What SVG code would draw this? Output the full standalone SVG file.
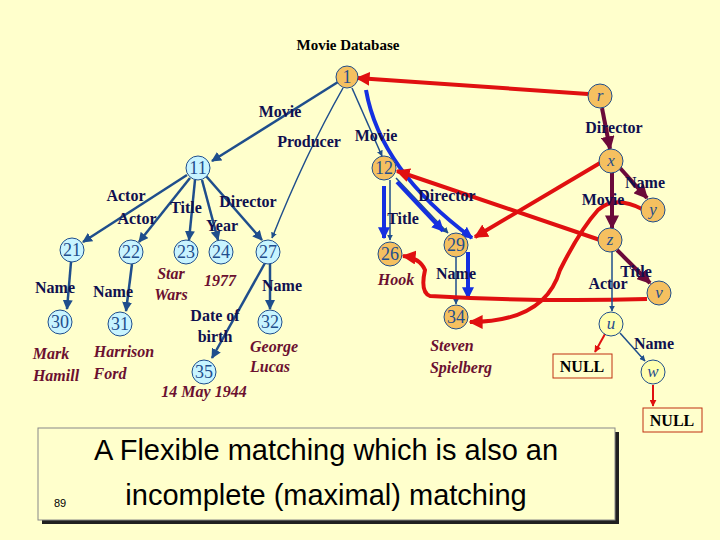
<svg xmlns="http://www.w3.org/2000/svg" width="720" height="540" viewBox="0 0 720 540">
<defs>
<marker id="ab" viewBox="0 0 10 10" refX="9" refY="5" markerWidth="4" markerHeight="4" orient="auto"><path d="M0,0L10,5L0,10z" fill="#1F4E8C"/></marker>
<marker id="aB" viewBox="0 0 10 10" refX="9" refY="5" markerWidth="3" markerHeight="3" orient="auto"><path d="M0,0L10,5L0,10z" fill="#1530E0"/></marker>
<marker id="ar" viewBox="0 0 10 10" refX="9" refY="5" markerWidth="3.5" markerHeight="3.5" orient="auto"><path d="M0,0L10,5L0,10z" fill="#E01010"/></marker>
<marker id="am" viewBox="0 0 10 10" refX="9" refY="5" markerWidth="3.5" markerHeight="3.5" orient="auto"><path d="M0,0L10,5L0,10z" fill="#6B0A3A"/></marker>
</defs>
<style>
.n circle{stroke:#1F4E8C;stroke-width:1}
.c{fill:#C8F4FF}.o{fill:#F5C060}.yl{fill:#FFFFB0}
.nt{font-family:"Liberation Serif",serif;font-size:18px;fill:#1F4E8C;text-anchor:middle}
.ni{font-family:"Liberation Serif",serif;font-size:17px;font-style:italic;fill:#1F4E8C;text-anchor:middle}
.l{font-family:"Liberation Serif",serif;font-size:16px;font-weight:bold;fill:#101050;text-anchor:middle}
.v{font-family:"Liberation Serif",serif;font-size:16px;font-weight:bold;font-style:italic;fill:#6B1030;text-anchor:middle}
.e{stroke:#1F4E8C;stroke-width:2.5;fill:none;marker-end:url(#ab)}
.et{stroke:#1F4E8C;stroke-width:1.5;fill:none;marker-end:url(#ab)}
.B{stroke:#1530E0;stroke-width:4;fill:none;marker-end:url(#aB)}
.r{stroke:#E01010;stroke-width:4;fill:none;marker-end:url(#ar)}
.rt{stroke:#E01010;stroke-width:2;fill:none;marker-end:url(#ar)}
.m{stroke:#6B0A3A;stroke-width:4;fill:none;marker-end:url(#am)}
</style>
<rect width="720" height="540" fill="#FFFFCC"/>
<text x="348" y="50" class="l" style="fill:#000;font-size:15px">Movie Database</text>
<g id="connectors">
<path class="e" d="M338,82L212,161"/>
<path class="et" d="M343,88Q305,155 272,238"/>
<path class="e" d="M187,175L83,242"/>
<path class="e" d="M190,178L139,242"/>
<path class="e" d="M195,180L189,240"/>
<path class="e" d="M202,180L218,240"/>
<path class="e" d="M206,176L262,240"/>
<path class="e" d="M71,262L67,309"/>
<path class="e" d="M132,264L126,311"/>
<path class="e" d="M265,263L212,358"/>
<path class="e" d="M270,264L270,309"/>
<path class="et" d="M352,88L382,156"/>
<path class="et" d="M390,180L390,240"/>
<path class="et" d="M396,178L448,233"/>
<path class="et" d="M456,257L456,304"/>
<path class="B" d="M366,90Q380,170 472,238"/>
<path class="B" d="M397,182L443,231"/>
<path class="B" d="M384,186L384,238"/>
<path class="B" d="M468,252L468,298"/>
<path class="r" d="M588,94L357,78"/>
<path class="r" d="M600,163L475,237"/>
<path class="r" d="M600,240L397,171"/>
<path class="r" d="M647,299Q540,302 430,296Q420,292 425,270Q420,258 403,256"/>
<path class="r" d="M642,209Q615,195 598,210Q580,230 560,270Q545,322 470,322"/>
<path class="m" d="M602,108L610,149"/>
<path class="m" d="M620,168L647,198"/>
<path class="m" d="M612,173L612,228"/>
<path class="m" d="M617,250L650,283"/>
<path class="et" d="M612,252L612,311"/>
<path class="et" d="M620,333L645,361"/>
<path class="rt" d="M605,334L595,352"/>
<path class="rt" d="M653,385L653,406"/>
</g>
<g id="labels">
<text x="280" y="117" class="l">Movie</text>
<text x="309" y="147" class="l">Producer</text>
<text x="376" y="141" class="l">Movie</text>
<text x="614" y="133" class="l">Director</text>
<text x="645" y="188" class="l">Name</text>
<text x="603" y="205" class="l">Movie</text>
<text x="636" y="277" class="l">Title</text>
<text x="608" y="289" class="l">Actor</text>
<text x="654" y="349" class="l">Name</text>
<text x="447" y="201" class="l">Director</text>
<text x="403" y="224" class="l">Title</text>
<text x="456" y="279" class="l">Name</text>
<text x="126" y="201" class="l">Actor</text>
<text x="137" y="224" class="l">Actor</text>
<text x="186" y="213" class="l">Title</text>
<text x="248" y="207" class="l">Director</text>
<text x="222" y="231" class="l">Year</text>
<text x="55" y="293" class="l">Name</text>
<text x="113" y="297" class="l">Name</text>
<text x="282" y="291" class="l">Name</text>
<text x="215" y="321" class="l">Date of</text>
<text x="215" y="342" class="l">birth</text>
<text x="171" y="279" class="v">Star</text>
<text x="171" y="300" class="v">Wars</text>
<text x="220" y="286" class="v">1977</text>
<text x="274" y="352" class="v">George</text>
<text x="270" y="372" class="v">Lucas</text>
<text x="51" y="359" class="v">Mark</text>
<text x="56" y="381" class="v">Hamill</text>
<text x="124" y="357" class="v">Harrison</text>
<text x="110" y="379" class="v">Ford</text>
<text x="204" y="397" class="v">14 May 1944</text>
<text x="396" y="285" class="v">Hook</text>
<text x="452" y="351" class="v">Steven</text>
<text x="461" y="373" class="v">Spielberg</text>
</g>
<g id="n1" class="n"><circle cx="347" cy="77" r="11" class="o"/><text x="347" y="83" class="nt">1</text></g>
<g id="n11" class="n"><circle cx="198" cy="168" r="12" class="c"/><text x="198" y="174" class="nt">11</text></g>
<g id="n21" class="n"><circle cx="72" cy="250" r="12" class="c"/><text x="72" y="256" class="nt">21</text></g>
<g id="n22" class="n"><circle cx="131" cy="252" r="12" class="c"/><text x="131" y="258" class="nt">22</text></g>
<g id="n23" class="n"><circle cx="186" cy="252" r="12" class="c"/><text x="186" y="258" class="nt">23</text></g>
<g id="n24" class="n"><circle cx="221" cy="252" r="12" class="c"/><text x="221" y="258" class="nt">24</text></g>
<g id="n27" class="n"><circle cx="268" cy="252" r="12" class="c"/><text x="268" y="258" class="nt">27</text></g>
<g id="n30" class="n"><circle cx="60" cy="322" r="12" class="c"/><text x="60" y="328" class="nt">30</text></g>
<g id="n31" class="n"><circle cx="120" cy="324" r="12" class="c"/><text x="120" y="330" class="nt">31</text></g>
<g id="n32" class="n"><circle cx="270" cy="322" r="12" class="c"/><text x="270" y="328" class="nt">32</text></g>
<g id="n35" class="n"><circle cx="204" cy="372" r="12" class="c"/><text x="204" y="378" class="nt">35</text></g>
<g id="n12" class="n"><circle cx="384" cy="168" r="12" class="o"/><text x="384" y="174" class="nt">12</text></g>
<g id="n26" class="n"><circle cx="390" cy="254" r="12" class="o"/><text x="390" y="260" class="nt">26</text></g>
<g id="n29" class="n"><circle cx="456" cy="245" r="12" class="o"/><text x="456" y="251" class="nt">29</text></g>
<g id="n34" class="n"><circle cx="456" cy="317" r="12" class="o"/><text x="456" y="323" class="nt">34</text></g>
<g id="nr" class="n"><circle cx="600" cy="96" r="12" class="o"/><text x="600" y="101" class="ni">r</text></g>
<g id="nx" class="n"><circle cx="611" cy="161" r="12" class="o"/><text x="611" y="166" class="ni">x</text></g>
<g id="ny" class="n"><circle cx="653" cy="210" r="12" class="o"/><text x="653" y="215" class="ni">y</text></g>
<g id="nz" class="n"><circle cx="610" cy="240" r="12" class="o"/><text x="610" y="245" class="ni">z</text></g>
<g id="nv" class="n"><circle cx="659" cy="293" r="12" class="o"/><text x="659" y="298" class="ni">v</text></g>
<g id="nu" class="n"><circle cx="611" cy="324" r="12" class="yl"/><text x="611" y="329" class="ni">u</text></g>
<g id="nw" class="n"><circle cx="653" cy="372" r="12" class="yl"/><text x="653" y="377" class="ni">w</text></g>
<g id="null1"><rect x="553" y="354" width="59" height="24" fill="#FFFFCC" stroke="#C03010"/><text x="582" y="372" class="l" style="fill:#000">NULL</text></g>
<g id="null2"><rect x="643" y="408" width="59" height="24" fill="#FFFFCC" stroke="#C03010"/><text x="672" y="426" class="l" style="fill:#000">NULL</text></g>
<g id="caption">
<rect x="42" y="432" width="577" height="92" fill="#202020"/>
<rect x="38" y="428" width="577" height="92" fill="#FFFFCC" stroke="#888" stroke-width="1"/>
<text x="326" y="460" font-family="Liberation Sans,sans-serif" font-size="29" text-anchor="middle" fill="#000">A Flexible matching which is also an</text>
<text x="326" y="505" font-family="Liberation Sans,sans-serif" font-size="29" text-anchor="middle" fill="#000">incomplete (maximal) matching</text>
<text x="60" y="507" font-family="Liberation Sans,sans-serif" font-size="11" text-anchor="middle" fill="#000">89</text>
</g>
</svg>
